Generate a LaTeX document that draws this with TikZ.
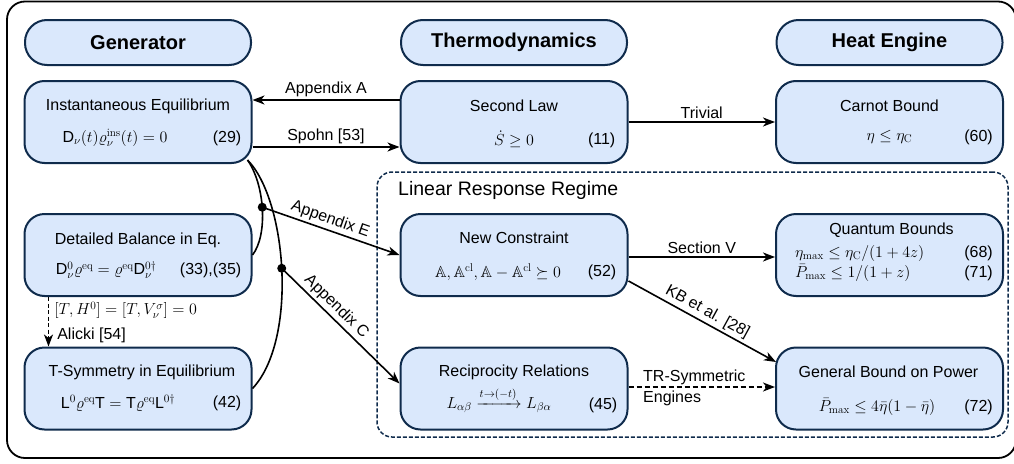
\RequirePackage{fix-cm}
\documentclass[tikz,border=0pt]{standalone}
\usepackage{amsmath,amssymb}
\usepackage{fontspec}
\setsansfont{Liberation Sans}
\usetikzlibrary{arrows.meta,calc}
\definecolor{navy}{HTML}{0F2B4C}
\definecolor{boxfill}{HTML}{DAE8FC}
\tikzset{
  every node/.style={font=\sffamily\fontsize{16}{19}\selectfont},
  box/.style={draw=navy, fill=boxfill, line width=2pt, rounded corners=20pt,
    minimum width=227pt, minimum height=82pt, inner sep=0pt},
  head/.style={draw=navy, fill=boxfill, line width=2pt, rounded corners=22pt,
    minimum width=226pt, minimum height=45pt, inner sep=0pt,
    font=\sffamily\bfseries\fontsize{20}{24}\selectfont},
  txt/.style={inner sep=0pt},
  num/.style={inner sep=0pt, anchor=east},
  arr/.style={line width=1.6pt, -{Stealth[length=12pt,width=9pt,inset=3.5pt]}},
  lbl/.style={inner sep=2.5pt},
  dot/.style={circle, fill=black, minimum size=9pt, inner sep=0pt},
  region/.style={draw=navy, line width=1.5pt, dash pattern=on 4pt off 2pt,
    rounded corners=15pt, minimum width=631pt, minimum height=265pt, inner sep=0pt},
  frame/.style={draw=black, line width=1.8pt, rounded corners=18pt,
    minimum width=1009pt, minimum height=456.5pt, inner sep=0pt},
}
\begin{document}
\begin{tikzpicture}[x=1pt,y=-1pt]
\useasboundingbox (0,0) rectangle (1014,463);
\node[frame] (outer) at (511.5,229.75) {};
\node[region] (lr) at (692.5,304.5) {};
\node[anchor=west, inner sep=0pt, font=\sffamily\fontsize{19.5}{23}\selectfont] (lrt) at (398,190) {Linear Response Regime};

% headers
\node[head] (hg) at (138,42.5) {Generator};
\node[head] (ht) at (514,42.5) {Thermodynamics};
\node[head] (hh) at (889.5,42.5) {Heat Engine};

% boxes
\node[box] (ie) at (138,122) {};
\node[box] (sl) at (514,122) {};
\node[box] (cb) at (889.5,122) {};
\node[box] (db) at (138,255) {};
\node[box] (nc) at (514,255) {};
\node[box] (qb) at (889.5,255) {};
\node[box] (ts) at (138,388.5) {};
\node[box] (rr) at (514,388.5) {};
\node[box] (gb) at (889.5,388.5) {};

% texts: row 1
\node[txt] (ie-t) at ([yshift=16pt]ie.center) {Instantaneous Equilibrium};
\node[txt] (ie-f) at ([xshift=-23pt,yshift=-16pt]ie.center) {$\mathsf{D}_\nu(t)\varrho_\nu^{\mathrm{ins}}(t)=0$};
\node[num] (ie-n) at ([xshift=-11pt,yshift=-16pt]ie.east) {(29)};

\node[txt] (sl-t) at ([yshift=16pt]sl.center) {Second Law};
\node[txt] (sl-f) at ([yshift=-17pt]sl.center) {$\dot S\geq 0$};
\node[num] (sl-n) at ([xshift=-13pt,yshift=-18pt]sl.east) {(11)};

\node[txt] (cb-t) at ([yshift=16pt]cb.center) {Carnot Bound};
\node[txt] (cb-f) at ([yshift=-15pt]cb.center) {$\eta\leq\eta_{\mathrm{C}}$};
\node[num] (cb-n) at ([xshift=-11pt,yshift=-15pt]cb.east) {(60)};

% row 2
\node[txt] (db-t) at ([yshift=15pt]db.center) {Detailed Balance in Eq.};
\node[txt] (db-f) at ([xshift=-32pt,yshift=-15pt]db.center) {$\mathsf{D}^0_\nu\varrho^{\mathrm{eq}}=\varrho^{\mathrm{eq}}\mathsf{D}^{0\dagger}_\nu$};
\node[num] (db-n) at ([xshift=-11pt,yshift=-15pt]db.east) {(33),(35)};

\node[txt] (nc-t) at ([yshift=17pt]nc.center) {New Constraint};
\node[txt] (nc-f) at ([xshift=-16pt,yshift=-17pt]nc.center) {$\mathbb{A},\mathbb{A}^{\mathrm{cl}},\mathbb{A}-\mathbb{A}^{\mathrm{cl}}\succeq 0$};
\node[num] (nc-n) at ([xshift=-12pt,yshift=-17pt]nc.east) {(52)};

\node[txt] (qb-t) at ([xshift=2pt,yshift=25pt]qb.center) {Quantum Bounds};
\node[txt, anchor=west] (qb-f1) at ([xshift=20pt,yshift=2pt]qb.west) {$\eta_{\max}\leq\eta_{\mathrm{C}}/(1+4z)$};
\node[txt, anchor=west] (qb-f2) at ([xshift=20pt,yshift=-18pt]qb.west) {$\bar P_{\max}\leq 1/(1+z)$};
\node[num] (qb-n1) at ([xshift=-11pt,yshift=2pt]qb.east) {(68)};
\node[num] (qb-n2) at ([xshift=-11pt,yshift=-18pt]qb.east) {(71)};

% row 3
\node[txt] (ts-t) at ([xshift=4pt,yshift=16.5pt]ts.center) {T-Symmetry in Equilibrium};
\node[txt] (ts-f) at ([xshift=-20pt,yshift=-14.5pt]ts.center) {$\mathsf{L}^0\varrho^{\mathrm{eq}}\mathsf{T}=\mathsf{T}\varrho^{\mathrm{eq}}\mathsf{L}^{0\dagger}$};
\node[num] (ts-n) at ([xshift=-11pt,yshift=-14.5pt]ts.east) {(42)};

\node[txt] (rr-t) at ([yshift=16.5pt]rr.center) {Reciprocity Relations};
\node[txt] (rr-f) at ([xshift=-15pt,yshift=-12pt]rr.center) {$L_{\alpha\beta}\xrightarrow{t\to(-t)}L_{\beta\alpha}$};
\node[num] (rr-n) at ([xshift=-11pt,yshift=-16.5pt]rr.east) {(45)};

\node[txt] (gb-t) at ([xshift=-1pt,yshift=16.5pt]gb.center) {General Bound on Power};
\node[txt] (gb-f) at ([xshift=-12.5pt,yshift=-18.5pt]gb.center) {$\bar P_{\max}\leq 4\bar\eta(1-\bar\eta)$};
\node[num] (gb-n) at ([xshift=-11pt,yshift=-18.5pt]gb.east) {(72)};

% connectors
\draw[arr] ([yshift=22pt]sl.west) -- node[lbl, above] (la) {Appendix A} ([yshift=22pt]ie.east);
\draw[arr] ([yshift=-25pt]ie.east) -- node[lbl, above] (ls) {Spohn [53]} ([yshift=-25pt]sl.west);
\draw[arr] (sl.east) -- node[lbl, above] (lt) {Trivial} (cb.west);
\draw[arr] ([yshift=-2pt]nc.east) -- node[lbl, above] (lv) {Section V} ([yshift=-2pt]qb.west);
\draw[arr] ([yshift=-26pt]nc.east) -- node[lbl, above, sloped] (lk) {KB et al. [28]} ([xshift=1pt,yshift=26.5pt]gb.west);
\draw[arr, dash pattern=on 5pt off 3pt] ([yshift=1.5pt]rr.east) -- ([yshift=1.5pt]gb.west);
\node[anchor=west, inner sep=0pt] (ltr1) at (643,377) {TR-Symmetric};
\node[anchor=west, inner sep=0pt] (ltr2) at (643,398) {Engines};

\draw[arr, dash pattern=on 4pt off 2.5pt] ([xshift=25pt]db.south west) -- node[pos=0.27, right, inner sep=0pt, xshift=5pt] (lc) {$[T,H^0]=[T,V^\sigma_\nu]=0$} node[pos=0.77, right, inner sep=0pt, xshift=8pt] (lal) {Alicki [54]} ([xshift=25pt]ts.north west);

% curves from instantaneous equilibrium
\coordinate (c0) at ([xshift=-5pt,yshift=4pt]ie.south east);
\draw[line width=1.6pt] (c0) .. controls (265,185) and (268,235) .. (db.east) coordinate[pos=0.48] (d1);
\draw[line width=1.6pt] (c0) .. controls (287,200) and (298,340) .. (ts.east) coordinate[pos=0.49] (d2);
\node[dot] (dot1) at (d1) {};
\node[dot] (dot2) at (d2) {};
\draw[arr] (dot1.center) -- node[lbl, above, sloped, pos=0.47] (le) {Appendix E} (nc.west);
\draw[arr] (dot2.center) -- node[lbl, above, sloped, pos=0.4] (lc2) {Appendix C} ([yshift=5pt]rr.west);
\end{tikzpicture}
\end{document}
